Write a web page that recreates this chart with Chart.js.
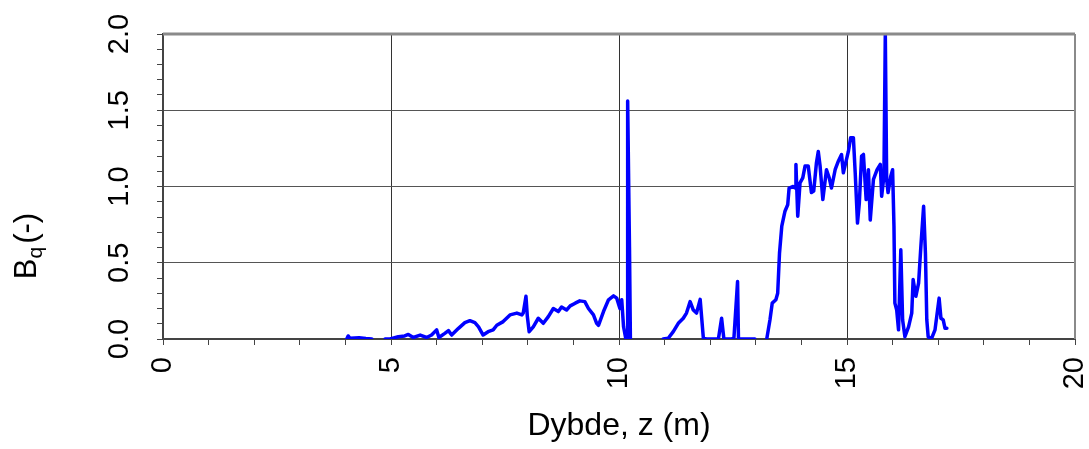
<!DOCTYPE html>
<html>
<head>
<meta charset="utf-8">
<script src="https://cdn.jsdelivr.net/npm/chart.js@4"></script>
<style>
    html, body { margin: 0; padding: 0; background: #fff; }
    #wrap { width: 1089px; height: 449px; }
</style>
</head>
<body>
<div id="wrap"><canvas id="graph0"></canvas></div>
<script>

// dybde (m) og Bq (-), null = hull i maalingen
var depth = [
    4.03, 4.06, 4.10, 4.30, 4.45, 4.58, 4.70,
    4.87, 4.98, 5.16, 5.30, 5.38, 5.49, 5.64, 5.78, 5.89, 6.00, 6.05, 6.18, 6.26, 6.33,
    6.48, 6.62, 6.73, 6.84, 6.92, 7.02, 7.13, 7.24, 7.32, 7.46, 7.61, 7.76, 7.87, 7.90,
    7.96, 7.99, 8.03, 8.12, 8.23, 8.34, 8.45, 8.56, 8.67, 8.74, 8.85, 8.93, 9.04, 9.14,
    9.25, 9.33, 9.44, 9.51, 9.55, 9.66, 9.77, 9.88, 9.95, 10.02, 10.06, 10.10, 10.15,
    10.18, 10.19, 10.23, 10.25, 10.60,
    10.97, 11.08, 11.19, 11.30, 11.41, 11.48, 11.56, 11.63, 11.70, 11.78, 11.85, 11.92,
    12.18, 12.25, 12.30, 12.47, 12.52, 12.60, 12.62, 12.98, 13.10,
    13.24, 13.31, 13.36, 13.44, 13.48, 13.52, 13.57, 13.64, 13.70, 13.73, 13.82, 13.86,
    13.88, 13.92, 13.97, 14.03, 14.08, 14.15, 14.22, 14.27, 14.33, 14.37, 14.41, 14.47,
    14.55, 14.61, 14.66, 14.74, 14.81, 14.88, 14.92, 14.98, 15.03, 15.08, 15.14, 15.18,
    15.23, 15.27, 15.32, 15.36, 15.42, 15.47, 15.51, 15.58, 15.66, 15.73, 15.76, 15.81,
    15.84, 15.87, 15.90, 15.96, 16.00, 16.03, 16.05, 16.09, 16.13, 16.18, 16.22, 16.27,
    16.35, 16.42, 16.45, 16.51, 16.57, 16.62, 16.68, 16.72, 16.75, 16.78, 16.85, 16.93,
    17.02, 17.06, 17.11, 17.15, 17.19
];
var bq = [
    0.0, 0.02, 0.005, 0.008, 0.003, 0.0, null,
    0.0, 0.0, 0.015, 0.02, 0.03, 0.01, 0.026, 0.01, 0.026, 0.06, 0.01, 0.037, 0.055, 0.026,
    0.07, 0.107, 0.12, 0.107, 0.08, 0.026, 0.048, 0.06, 0.09, 0.114, 0.158, 0.17, 0.158, 0.17,
    0.28, 0.147, 0.048, 0.08, 0.136, 0.103, 0.147, 0.2, 0.18, 0.21, 0.19, 0.217, 0.235, 0.25,
    0.245, 0.2, 0.158, 0.103, 0.09, 0.18, 0.257, 0.283, 0.268, 0.2, 0.257, 0.08, 0.0,
    0.0, 1.56, 0.6, 0.0, null,
    0.0, 0.005, 0.048, 0.103, 0.136, 0.17, 0.245, 0.19, 0.17, 0.26, 0.005, 0.0,
    0.0, 0.136, 0.0, 0.0, 0.005, 0.377, 0.0, 0.0, null,
    0.0, 0.125, 0.235, 0.257, 0.3, 0.564, 0.74, 0.838, 0.88, 0.99, 1.0, 0.99,
    1.145, 0.805, 1.024, 1.057, 1.134, 1.134, 0.96, 0.97, 1.156, 1.23, 1.134, 0.914,
    1.11, 1.057, 0.99, 1.11, 1.166, 1.21, 1.09, 1.166, 1.23, 1.32, 1.32, 1.09,
    0.76, 0.89, 1.2, 1.21, 0.914, 1.11, 0.78, 1.046, 1.11, 1.145, 0.936, 1.068,
    2.0, 1.046, 0.96, 1.068, 1.11, 0.74, 0.235, 0.19, 0.06, 0.585, 0.125, 0.015,
    0.08, 0.17, 0.39, 0.28, 0.366, 0.607, 0.87, 0.564, 0.125, 0.015, 0.0, 0.06,
    0.268, 0.136, 0.125, 0.07, 0.07
];

var x_labels = [0, 5, 10, 15, 20];
var y_labels = [0.0, 0.5, 1.0, 1.5, 2.0];

var FONT = "'Liberation Sans', Arial, Helvetica, sans-serif";
var CHART0 = null;

//ramme rundt plottet (topp og hoeyre side)
var frame_plugin = {
    id: "frame",
    afterDraw: function(chart){
        let ctx = chart.ctx;
        let a   = chart.chartArea;
        ctx.save();
        ctx.strokeStyle = "#8a8a8a";
        ctx.lineWidth = 3;
        ctx.beginPath();
        ctx.moveTo(a.left, a.top);
        ctx.lineTo(a.right, a.top);
        ctx.stroke();
        ctx.lineWidth = 2;
        ctx.beginPath();
        ctx.moveTo(a.right, a.top);
        ctx.lineTo(a.right, a.bottom);
        ctx.stroke();
        ctx.restore();
    }
};

//y-aksetittel med senket q
var ytitle_plugin = {
    id: "ytitle",
    afterDraw: function(chart){
        let ctx = chart.ctx;
        ctx.save();
        ctx.translate(27, 246);
        ctx.rotate(-Math.PI / 2);
        ctx.fillStyle = "#000";
        ctx.textBaseline = "middle";
        ctx.textAlign = "left";
        ctx.font = "31px " + FONT;
        let wB = ctx.measureText("B").width;
        ctx.font = "21px " + FONT;
        let wq = ctx.measureText("q").width;
        ctx.font = "31px " + FONT;
        let wP = ctx.measureText("(-)").width;
        let x0 = -(wB + wq + 3 + wP) / 2;
        ctx.fillText("B", x0, 0);
        ctx.font = "21px " + FONT;
        ctx.fillText("q", x0 + wB, 9);
        ctx.font = "31px " + FONT;
        ctx.fillText("(-)", x0 + wB + wq + 3, 0);
        ctx.restore();
    }
};

window.addEventListener("load", function(){
    draw_graph();
});

function draw_graph(){

    let ctx0 = document.getElementById("graph0");

    let points = [];
    for (let i = 0; i < depth.length; i++){
        points.push({x: depth[i], y: bq[i]});
    }

    if (CHART0) {
        CHART0.destroy();
    }

    CHART0 = new Chart(ctx0, {
        type: "line",
        data: {
            datasets: [{
                data: points,
                borderColor: "rgb(0,0,255)",
                borderWidth: 3.5,
                borderJoinStyle: "round",
                borderCapStyle: "round",
                pointRadius: 0,
                tension: 0,
                spanGaps: false,
                fill: false
            }]
        },
        options: {
            responsive: true,
            maintainAspectRatio: false,
            animation: false,
            layout: { padding: { top: 34, right: 14, left: 0, bottom: 0 } },
            plugins: {
                legend: { display: false },
                tooltip: { enabled: false }
            },
            scales: {
                x: {
                    type: "linear",
                    min: 0,
                    max: 20,
                    border: { color: "#444", width: 2 },
                    grid: {
                        color: function(c){
                            let v = c.tick ? c.tick.value : 0;
                            return (x_labels.indexOf(v) > 0 && v < 20) ? "#333" : "rgba(0,0,0,0)";
                        },
                        tickColor: "#444",
                        tickLength: 6,
                        lineWidth: 1
                    },
                    ticks: {
                        stepSize: 1,
                        autoSkip: false,
                        minRotation: 90,
                        maxRotation: 90,
                        padding: 12,
                        color: "#000",
                        font: { family: FONT, size: 29 },
                        callback: function(v){
                            return x_labels.indexOf(v) >= 0 ? String(v) : "";
                        }
                    },
                    title: {
                        display: true,
                        text: "Dybde, z (m)",
                        color: "#000",
                        font: { family: FONT, size: 32 },
                        padding: { top: 0, bottom: 4 }
                    },
                    afterFit: function(s){
                        s.height = 110;
                        s.paddingLeft = 0;
                        s.paddingRight = 0;
                    }
                },
                y: {
                    type: "linear",
                    min: 0,
                    max: 2,
                    border: { color: "#444", width: 2 },
                    grid: {
                        color: function(c){
                            let v = c.tick ? Math.round(c.tick.value * 10) / 10 : 0;
                            return (y_labels.indexOf(v) > 0 && v < 2) ? "#555" : "rgba(0,0,0,0)";
                        },
                        tickColor: "#444",
                        tickLength: 6,
                        lineWidth: 1
                    },
                    ticks: {
                        stepSize: 0.1,
                        autoSkip: false,
                        minRotation: 90,
                        maxRotation: 90,
                        crossAlign: "center",
                        padding: 17,
                        color: "#000",
                        font: { family: FONT, size: 29 },
                        callback: function(v){
                            let r = Math.round(v * 10) / 10;
                            return y_labels.indexOf(r) >= 0 ? r.toFixed(1) : "";
                        }
                    },
                    afterFit: function(s){
                        s.width = 163;
                        s.paddingTop = 0;
                        s.paddingBottom = 0;
                    }
                }
            }
        },
        plugins: [frame_plugin, ytitle_plugin]
    });
}
</script>
</body>
</html>
